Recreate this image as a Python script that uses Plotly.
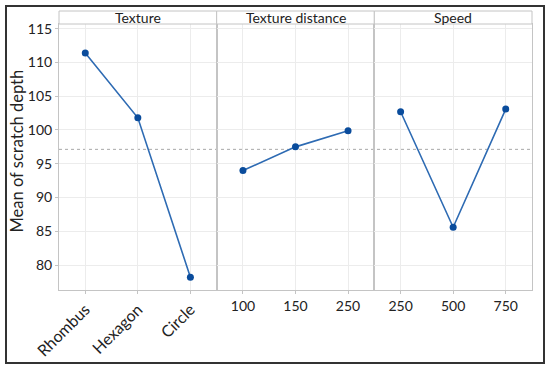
import numpy as np
import plotly.graph_objects as go
from plotly.subplots import make_subplots

texture_levels = ["Rhombus", "Hexagon", "Circle"]
texture_means = [111.4, 101.8, 78.2]
distance_levels = ["100", "150", "250"]
distance_means = [94.0, 97.5, 99.9]
speed_levels = ["250", "500", "750"]
speed_means = [102.7, 85.6, 103.1]
panel_titles = ["Texture", "Texture distance", "Speed"]
y_title = "Mean of scratch depth"

grand_mean = float(np.mean(texture_means))

W, H = 550, 370
L, R, T, B = 59, 18, 24, 80
pw = W - L - R
ph = H - T - B

fig = make_subplots(rows=1, cols=3, shared_yaxes=True, horizontal_spacing=0)

line_col = "#2e6bb3"
mk_col = "#0a4c9c"
for i, (xs, ys) in enumerate([(texture_levels, texture_means),
                              (distance_levels, distance_means),
                              (speed_levels, speed_means)]):
    fig.add_trace(go.Scatter(x=xs, y=ys, mode="lines+markers",
                             line=dict(color=line_col, width=1.6),
                             marker=dict(color=mk_col, size=7),
                             showlegend=False), row=1, col=i + 1)

font = "Lato"
for i in range(3):
    fig.update_xaxes(type="category", range=[-0.5, 2.5], showgrid=True, gridcolor="#ececec",
                     showline=True, linecolor="#c4c4c4", mirror=True, linewidth=1,
                     ticks="outside", ticklen=3, tickcolor="#c4c4c4", zeroline=False,
                     automargin=False,
                     tickfont=dict(family=font, size=14, color="#222"), row=1, col=i + 1)
fig.update_xaxes(tickangle=-45, tickfont=dict(family=font, size=16, color="#222"), row=1, col=1)

fig.update_yaxes(range=[76.3, 115.7], tickvals=[80, 85, 90, 95, 100, 105, 110, 115],
                 showgrid=True, gridcolor="#ececec", zeroline=False, automargin=False,
                 showline=True, linecolor="#c4c4c4", mirror=True, linewidth=1)
fig.update_yaxes(ticks="outside", ticklen=3, tickcolor="#c4c4c4",
                 tickfont=dict(family=font, size=14, color="#222"),
                 row=1, col=1)

shapes = []
annotations = []
# grand mean reference line across all panels
shapes.append(dict(type="line", xref="paper", yref="y", x0=0, x1=1,
                   y0=grand_mean, y1=grand_mean,
                   line=dict(color="#a8a8a8", width=1, dash="dot"), layer="below"))
strip_h = 13 / ph
for i in range(3):
    x0, x1 = i / 3, (i + 1) / 3
    shapes.append(dict(type="rect", xref="paper", yref="paper", x0=x0, x1=x1,
                       y0=1, y1=1 + strip_h, line=dict(color="#c4c4c4", width=1),
                       fillcolor="white"))
    annotations.append(dict(text=panel_titles[i], xref="paper", yref="paper",
                            x=(x0 + x1) / 2, y=1 + strip_h / 2, showarrow=False,
                            xanchor="center", yanchor="middle",
                            font=dict(family=font, size=14, color="#222")))
# y-axis title
annotations.append(dict(text=y_title, xref="paper", yref="paper",
                        x=(16.5 - L) / pw, y=(ph + T - 151) / ph, textangle=-90,
                        showarrow=False, xanchor="center", yanchor="middle",
                        font=dict(family=font, size=16.5, color="#222")))
# outer frame
shapes.append(dict(type="rect", xref="paper", yref="paper",
                   x0=(6 - L) / pw, x1=(544 - L) / pw,
                   y0=(ph + T - 363) / ph, y1=(ph + T - 6) / ph,
                   line=dict(color="#333", width=2), fillcolor="rgba(0,0,0,0)"))

fig.update_layout(width=W, height=H, margin=dict(l=L, r=R, t=T, b=B, autoexpand=False),
                  paper_bgcolor="white", plot_bgcolor="white",
                  shapes=shapes, annotations=annotations)

fig.write_html("out.html", config={"displayModeBar": False},
               post_script="document.body.style.margin='0';document.body.style.overflow='hidden';")
